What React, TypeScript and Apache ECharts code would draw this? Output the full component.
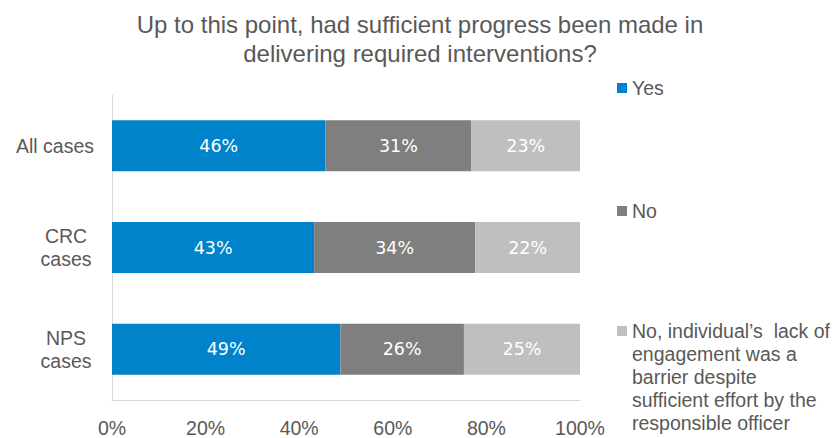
import React, { useEffect, useRef } from "react";
import * as echarts from "echarts";

const categories = ["All cases", "CRC cases", "NPS cases"];
const yesValues = [45.6, 43.2, 48.8];
const noValues = [31.2, 34.4, 26.4];
const barrierValues = [23.2, 22.4, 24.8];
const xTicks = [0, 20, 40, 60, 80, 100];
const seriesNames = ["Yes", "No", "No, individual’s  lack of"];
const barrierRest = ["engagement was a", "barrier despite", "sufficient effort by the", "responsible officer"];
const colors = ["#0083CA", "#7F7F7F", "#BFBFBF"];
const titleText = "Up to this point, had sufficient progress been made in\ndelivering required interventions?";

export default function App() {
  const ref = useRef<HTMLDivElement>(null);
  useEffect(() => {
    if (!ref.current) return;
    const chart = echarts.init(ref.current, null, { renderer: "svg" });
    const txt = "#595959";
    const mkSeries = (name: string, data: number[], color: string) => ({
      name,
      type: "bar",
      stack: "total",
      barWidth: 51,
      data,
      itemStyle: { color },
      label: {
        show: true,
        position: "inside",
        color: "#fff",
        fontFamily: "DejaVu Sans",
        fontSize: 17.5,
        formatter: (p: any) => Math.round(p.value) + "%",
      },
    });
    const legendBase = {
      orient: "vertical",
      left: 617,
      padding: 0,
      itemWidth: 10,
      itemHeight: 10,
      itemGap: 5,
      icon: "rect",
      selectedMode: false,
      textStyle: { color: txt, fontFamily: "Liberation Sans", fontSize: 19.5, lineHeight: 23 },
    };
    chart.setOption({
      animation: false,
      title: {
        text: titleText,
        left: 420,
        textAlign: "center",
        top: 10,
        padding: 0,
        textStyle: {
          color: txt,
          fontFamily: "Liberation Sans",
          fontSize: 24,
          fontWeight: "normal",
          lineHeight: 29,
        },
      },
      legend: [
        { ...legendBase, top: 76.5, data: [seriesNames[0]] },
        { ...legendBase, top: 199.5, data: [seriesNames[1]] },
        { ...legendBase, top: 319.5, data: [seriesNames[2]] },
      ],
      grid: { left: 112, right: 260, top: 95, bottom: 36 },
      xAxis: {
        type: "value",
        min: 0,
        max: 100,
        interval: 20,
        axisLine: { show: true, lineStyle: { color: "#D9D9D9", width: 1 } },
        axisTick: { show: false },
        splitLine: { show: false },
        axisLabel: {
          color: txt,
          fontFamily: "Liberation Sans",
          fontSize: 19.5,
          margin: 18,
          formatter: (v: number) => (xTicks.includes(v) ? v + "%" : ""),
        },
      },
      yAxis: {
        type: "category",
        inverse: true,
        data: categories,
        axisLine: { show: true, lineStyle: { color: "#D9D9D9", width: 1 } },
        axisTick: { show: false },
        axisLabel: {
          color: txt,
          fontFamily: "Liberation Sans",
          fontSize: 19.5,
          margin: 18,
          lineHeight: 23,
          formatter: (v: string) => {
            const parts = v.split(" ");
            if (v === "All cases") return "{s|" + v + "}";
            return parts.map((p) => "{c|" + p + "}").join("\n");
          },
          rich: {
            s: { color: txt, fontFamily: "Liberation Sans", fontSize: 19.5 },
            c: { color: txt, fontFamily: "Liberation Sans", fontSize: 19.5, width: 56, align: "center", lineHeight: 23 },
          },
        },
      },
      graphic: [
        {
          type: "text",
          left: 632,
          top: 342.5,
          style: {
            text: barrierRest.join("\n"),
            fill: txt,
            font: "19.5px 'Liberation Sans'",
            lineHeight: 23,
          },
        },
      ],
      series: [
        mkSeries(seriesNames[0], yesValues, colors[0]),
        mkSeries(seriesNames[1], noValues, colors[1]),
        mkSeries(seriesNames[2], barrierValues, colors[2]),
      ],
    });
    return () => chart.dispose();
  }, []);
  return <div ref={ref} style={{ width: 840, height: 438, position: "absolute", left: 0, top: 0 }} />;
}
